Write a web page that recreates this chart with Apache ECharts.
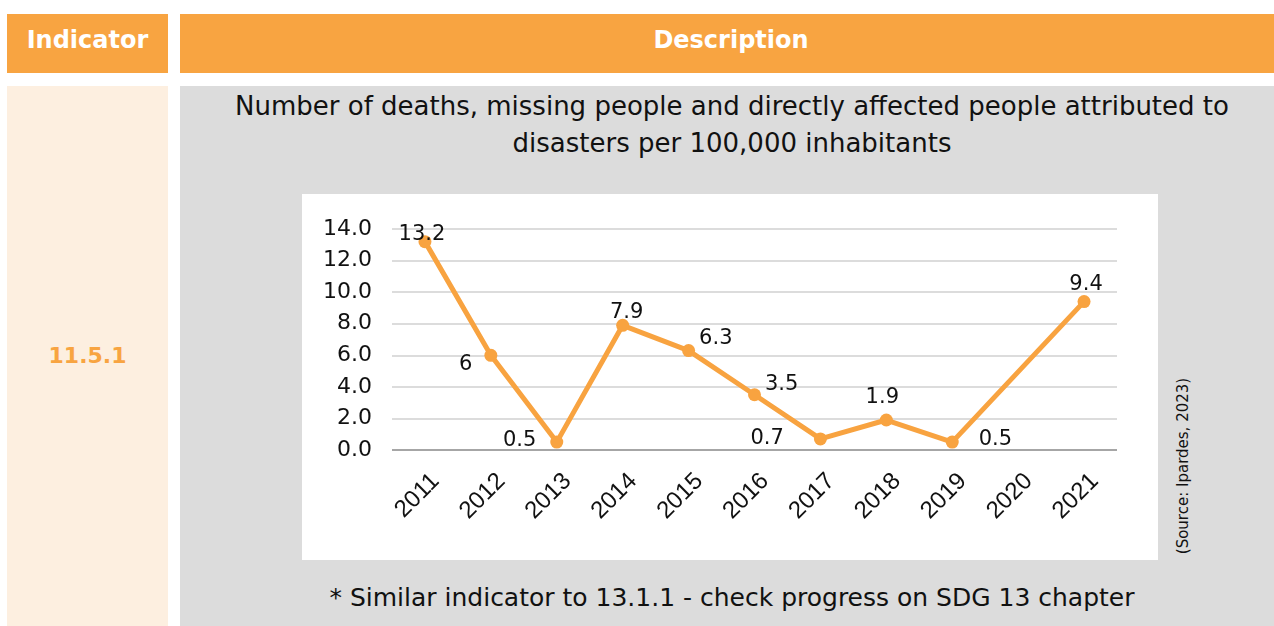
<!DOCTYPE html>
<html lang="en">
<head>
<meta charset="utf-8">
<script src="https://cdn.jsdelivr.net/npm/echarts@6/dist/echarts.min.js"></script>
<style>
	body { margin: 0; width: 1274px; height: 626px; background: #fff; position: relative; overflow: hidden; font-family: "DejaVu Sans", sans-serif; }
	.box { position: absolute; }
	.head { background: #F8A441; color: #fff; font-weight: bold; font-size: 24px; text-align: center; line-height: 52px; }
	#ind { left: 7px; top: 14px; width: 161px; height: 59px; }
	#desc { left: 180px; top: 14px; width: 1094px; height: 59px; text-indent: 8px; }
	#code { left: 7px; top: 86px; width: 161px; height: 540px; background: #FDEFE0; color: #F8A441; font-weight: bold; font-size: 22px; text-align: center; line-height: 540px; }
	#cell { left: 180px; top: 86px; width: 1094px; height: 540px; background: #DCDCDC; }
	#title { left: 180px; top: 88px; width: 1104px; text-align: center; font-size: 26px; line-height: 37px; color: #111; }
	#note { left: 180px; top: 583px; width: 1104px; text-align: center; font-size: 25px; color: #111; }
	#panel { left: 302px; top: 194px; width: 856px; height: 366px; background: #fff; }
	#source { left: 1183px; top: 466px; font-size: 15px; color: #111; transform: translate(-50%, -50%) rotate(-90deg); white-space: nowrap; }
</style>
</head>
<body>
	<div class="box head" id="ind">Indicator</div>
	<div class="box head" id="desc">Description</div>
	<div class="box" id="code">11.5.1</div>
	<div class="box" id="cell"></div>
	<div class="box" id="title">Number of deaths, missing people and directly affected people attributed to<br>disasters per 100,000 inhabitants</div>
	<div class="box" id="panel"></div>
	<div class="box" id="source">(Source: Ipardes, 2023)</div>
	<div class="box" id="note">* Similar indicator to 13.1.1 - check progress on SDG 13 chapter</div>

	<script type="text/javascript">
		// 数据
		var years = ['2011', '2012', '2013', '2014', '2015', '2016', '2017', '2018', '2019', '2020', '2021'];
		var rates = [13.2, 6, 0.5, 7.9, 6.3, 3.5, 0.7, 1.9, 0.5, null, 9.4];
		var yTicks = [0, 2, 4, 6, 8, 10, 12, 14];

		// label placement per point
		var labelSpots = [
			{ position: 'top', distance: -10, offset: [-3, 0] },
			{ position: 'left', distance: 12, offset: [0, 9] },
			{ position: 'left', distance: 14, offset: [0, -2] },
			{ position: 'top', distance: -4, offset: [4, 0] },
			{ position: 'right', distance: 4, offset: [0, -12] },
			{ position: 'right', distance: 4, offset: [0, -10] },
			{ position: 'left', distance: 30, offset: [0, 0] },
			{ position: 'top', distance: 5, offset: [-4, 0] },
			{ position: 'right', distance: 20, offset: [0, -3] },
			{},
			{ position: 'top', distance: 0, offset: [2, 0] }
		];

		var points = rates.map(function (v, i) {
			return { value: v, label: labelSpots[i] };
		});

		var chart = echarts.init(document.getElementById('panel'));
		var option = {
			animation: false,
			grid: { left: 90, right: 41, top: 35, bottom: 110 },
			xAxis: {
				type: 'category',
				data: years,
				axisLine: { show: false },
				axisTick: { show: false },
				axisLabel: {
					rotate: 45, interval: 0, fontSize: 24, color: '#111',
					fontFamily: 'Liberation Sans', margin: 38, padding: [0, -15, 0, 0]
				}
			},
			yAxis: {
				type: 'value',
				min: yTicks[0],
				max: yTicks[yTicks.length - 1],
				interval: 2,
				axisLine: { show: false },
				axisTick: { show: false },
				axisLabel: {
					fontSize: 22, color: '#111', margin: 20, fontFamily: 'DejaVu Sans',
					formatter: function (v) { return v.toFixed(1); }
				},
				splitLine: {
					lineStyle: {
						color: ['#888', '#d0d0d0', '#d0d0d0', '#d0d0d0', '#d0d0d0', '#d0d0d0', '#d0d0d0', '#d0d0d0'],
						width: 1.5
					}
				}
			},
			series: [{
				type: 'line',
				data: points,
				connectNulls: true,
				symbol: 'circle',
				symbolSize: 13,
				color: '#F8A340',
				lineStyle: { width: 5, color: '#F8A340' },
				label: { show: true, fontSize: 21, color: '#111', fontFamily: 'DejaVu Sans' }
			}]
		};
		chart.setOption(option);
	</script>
</body>
</html>
